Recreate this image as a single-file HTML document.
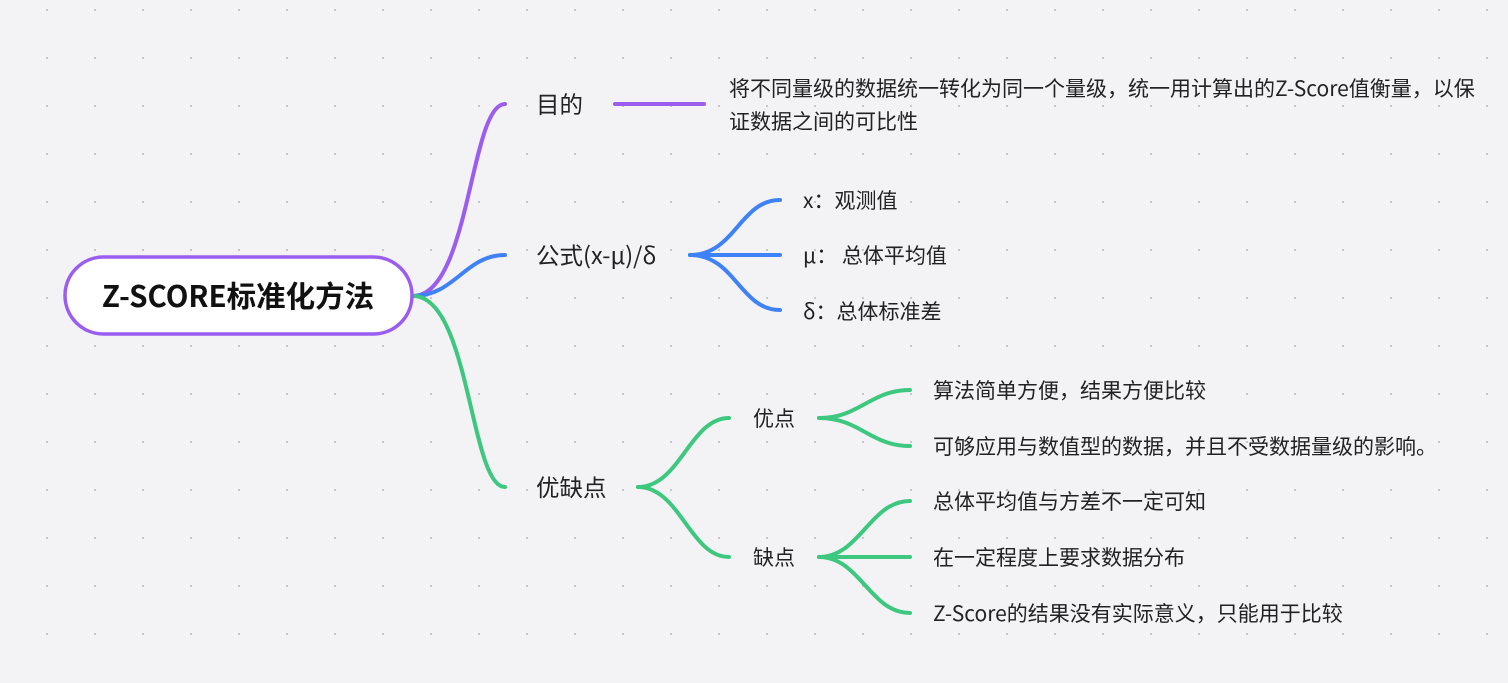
<!DOCTYPE html>
<html><head><meta charset="utf-8"><style>
body{margin:0;width:1508px;height:678px;overflow:hidden;background:#f3f3f6;font-family:"Noto Sans CJK SC",sans-serif;}
</style></head><body>
<svg width="1508" height="678" xmlns="http://www.w3.org/2000/svg">
<defs><pattern id="d" x="46" y="9" width="48" height="48" patternUnits="userSpaceOnUse"><rect x="-1" y="-1" width="3" height="3" fill="#c8c8cc"/></pattern></defs>
<rect width="1508" height="678" fill="#f3f3f6"/>
<rect width="1508" height="678" fill="url(#d)"/>
<g fill="none" stroke-width="4" stroke-linecap="round">
<path d="M413 296 C470 296,470 104,505 104" stroke="#9b5cf0"/>
<path d="M615 104 H704" stroke="#9b5cf0"/>
<path d="M413 296 C455 296,465 255,505 255" stroke="#3f82f7"/>
<path d="M413 296 C470 296,470 487,505 487" stroke="#3ec77e"/>
<g stroke="#3f82f7">
<path d="M690 255 C735 255,740 200,780 200"/>
<path d="M690 255 H780"/>
<path d="M690 255 C735 255,740 310,780 310"/>
</g>
<g stroke="#3ec77e">
<path d="M638 487 C680 487,690 418,729 418"/>
<path d="M638 487 C680 487,690 557,729 557"/>
<path d="M819 418 C860 418,870 390,910 390"/>
<path d="M819 418 C860 418,870 446,910 446"/>
<path d="M819 557 C860 557,870 501,910 501"/>
<path d="M819 557 H910"/>
<path d="M819 557 C860 557,870 613,910 613"/>
</g>
</g>
<rect x="65" y="257" width="347" height="77" rx="38.5" fill="#fff" stroke="#9b5cf0" stroke-width="3.5"/>
<text x="238" y="307" text-anchor="middle" font-size="29.5" font-weight="bold" fill="#111" font-family="Noto Sans CJK SC,sans-serif">Z-SCORE标准化方法</text>
<g font-size="23.5" fill="#222" font-family="Noto Sans CJK SC,sans-serif">
<text x="536" y="113">目的</text>
<text x="536" y="264">公式(x-μ)/δ</text>
<text x="536" y="496">优缺点</text>
</g>
<g font-size="21" fill="#222" font-family="Noto Sans CJK SC,sans-serif">
<text x="729" y="96">将不同量级的数据统一转化为同一个量级，统一用计算出的Z-Score值衡量，以保</text>
<text x="729" y="129">证数据之间的可比性</text>
<text x="803" y="208">x：观测值</text>
<text x="803" y="263">μ：  总体平均值</text>
<text x="803" y="319">δ：总体标准差</text>
<text x="753" y="426">优点</text>
<text x="753" y="565">缺点</text>
<text x="933" y="398">算法简单方便，结果方便比较</text>
<text x="933" y="454">可够应用与数值型的数据，并且不受数据量级的影响。</text>
<text x="933" y="509">总体平均值与方差不一定可知</text>
<text x="933" y="565">在一定程度上要求数据分布</text>
<text x="933" y="621">Z-Score的结果没有实际意义，只能用于比较</text>
</g>
</svg>
</body></html>
